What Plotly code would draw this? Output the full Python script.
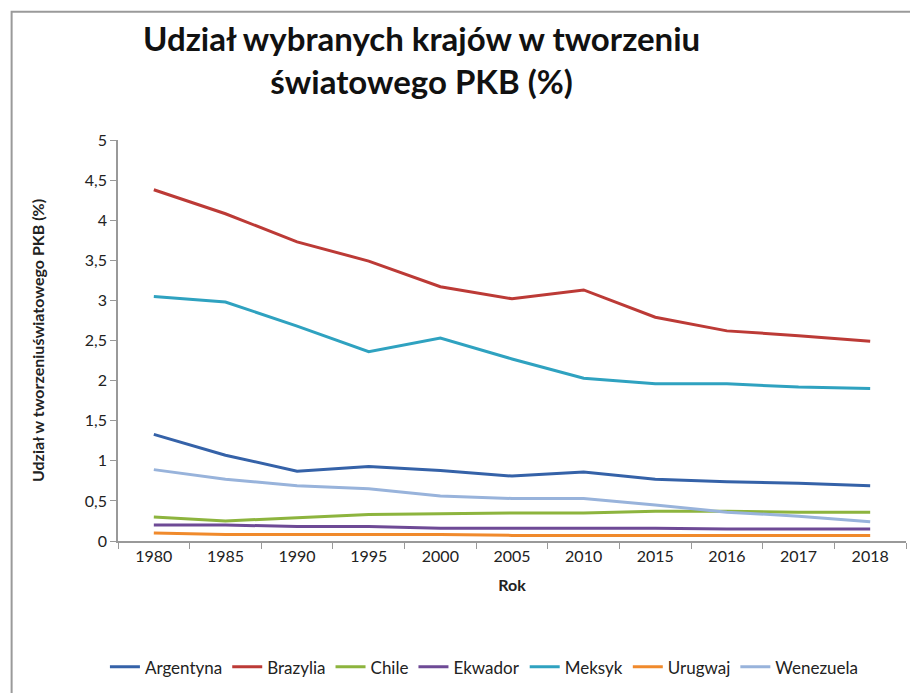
import plotly.graph_objects as go

years = ["1980", "1985", "1990", "1995", "2000", "2005", "2010", "2015", "2016", "2017", "2018"]
argentyna = [1.33, 1.07, 0.87, 0.93, 0.88, 0.81, 0.86, 0.77, 0.74, 0.72, 0.69]
brazylia = [4.38, 4.08, 3.73, 3.49, 3.17, 3.02, 3.13, 2.79, 2.62, 2.56, 2.49]
chile = [0.30, 0.25, 0.29, 0.33, 0.34, 0.35, 0.35, 0.37, 0.37, 0.36, 0.36]
ekwador = [0.20, 0.20, 0.18, 0.18, 0.16, 0.16, 0.16, 0.16, 0.15, 0.15, 0.15]
meksyk = [3.05, 2.98, 2.68, 2.36, 2.53, 2.27, 2.03, 1.96, 1.96, 1.92, 1.90]
urugwaj = [0.10, 0.08, 0.08, 0.08, 0.08, 0.07, 0.07, 0.07, 0.07, 0.07, 0.07]
wenezuela = [0.89, 0.77, 0.69, 0.65, 0.56, 0.53, 0.53, 0.45, 0.36, 0.31, 0.24]

series = [
    ("Argentyna", argentyna, "#3562A8"),
    ("Brazylia", brazylia, "#BC3A36"),
    ("Chile", chile, "#8DB43E"),
    ("Ekwador", ekwador, "#6E4A96"),
    ("Meksyk", meksyk, "#2FA2C0"),
    ("Urugwaj", urugwaj, "#F08A2C"),
    ("Wenezuela", wenezuela, "#98B3DB"),
]

fig = go.Figure()
for name, vals, col in series:
    fig.add_trace(go.Scatter(x=years, y=vals, name=name, mode="lines",
                             line=dict(color=col, width=3)))

font = "Lato, 'Open Sans', sans-serif"
fig.update_layout(
    width=918, height=693,
    margin=dict(l=110, r=20, t=132, b=160, autoexpand=False),
    paper_bgcolor="white", plot_bgcolor="white",
    separators=", ",
    font=dict(family=font, size=16, color="#222"),
    showlegend=True,
    legend=dict(orientation="h", x=0.465, xanchor="center", y=-0.315, yanchor="middle",
                font=dict(size=17, color="#222"), itemwidth=30, tracegroupgap=0),
    annotations=[
        dict(text="<b>Udział wybranych krajów w tworzeniu<br>światowego PKB (%)</b>",
             xref="paper", yref="paper", x=0.385, y=1.31, xanchor="center", yanchor="top",
             showarrow=False, font=dict(size=33, color="#111", family=font), align="center"),
    ],
    shapes=[
        dict(type="rect", xref="paper", yref="paper", x0=-0.135, x1=1.05, y0=-0.5, y1=1.32,
             line=dict(color="#9a9a9a", width=2), fillcolor="rgba(0,0,0,0)", layer="below"),
    ],
)
fig.update_xaxes(
    type="category", range=[-0.5, 10.5], showline=True, linecolor="#999", linewidth=1.5,
    ticks="outside", tickson="boundaries", ticklen=6, tickcolor="#999",
    showgrid=False, tickfont=dict(size=16),
    title=dict(text="<b>Rok</b>", font=dict(size=16), standoff=16),
)
fig.update_yaxes(
    range=[0, 5], dtick=0.5, showline=True, linecolor="#999", linewidth=1.5,
    ticks="outside", ticklen=6, tickcolor="#999", showgrid=False,
    tickfont=dict(size=16), tickformat=".1~f",
    title=dict(text="<b>Udział w tworzeniuświatowego PKB (%)</b>", font=dict(size=16), standoff=36),
    zeroline=False,
)
fig.write_html("out.html")
